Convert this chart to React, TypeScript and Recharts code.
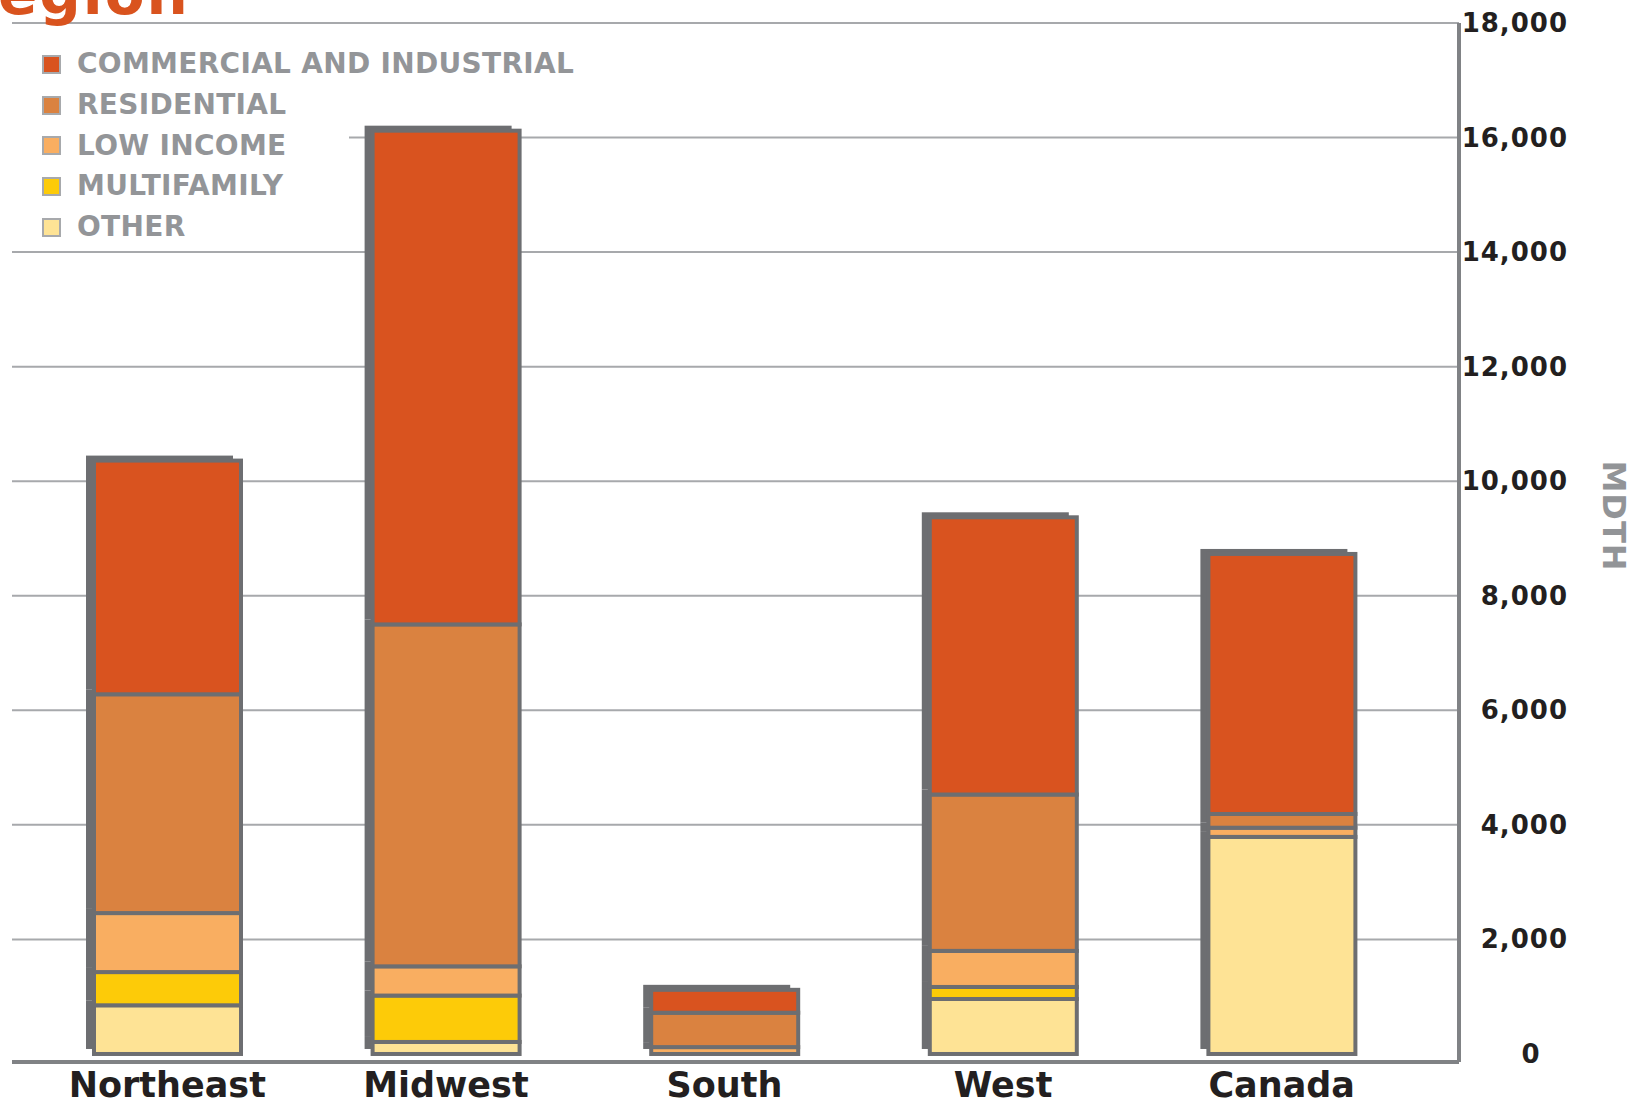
import React from "react";
import { BarChart, Bar, XAxis, YAxis, CartesianGrid, Legend } from "recharts";

// MDTH savings by region, stacked by program sector
const regions = ["Northeast", "Midwest", "South", "West", "Canada"];
const other = [850, 210, 0, 960, 3790];
const multifamily = [580, 810, 0, 210, 0];
const lowIncome = [1030, 510, 120, 630, 160];
const residential = [3820, 5970, 600, 2730, 240];
const commercial = [4080, 8620, 400, 4840, 4540];

const yTicks = [0, 2000, 4000, 6000, 8000, 10000, 12000, 14000, 16000, 18000];
const gridTicks = yTicks.filter((t) => t > 0);

const GRAY = "#6d6e71";
const FONT = "'DejaVu Sans', sans-serif";

const series = [
  { key: "other", name: "OTHER", color: "#fee395" },
  { key: "multifamily", name: "MULTIFAMILY", color: "#fdcb08" },
  { key: "lowIncome", name: "LOW INCOME", color: "#f9ae61" },
  { key: "residential", name: "RESIDENTIAL", color: "#da8240" },
  { key: "commercial", name: "COMMERCIAL AND INDUSTRIAL", color: "#d9531f" },
];

const data = regions.map((region, i) => ({
  region,
  other: other[i],
  multifamily: multifamily[i],
  lowIncome: lowIncome[i],
  residential: residential[i],
  commercial: commercial[i],
}));

// segment with the offset grey "shadow" frame behind it
const Segment = (props: any) => {
  const { x, y, width, height, fill } = props;
  if (!height || height <= 0) return null;
  return (
    <g>
      <rect x={x - 8} y={y - 5} width={width} height={height} fill={GRAY} />
      <rect x={x} y={y} width={width} height={height} fill={fill} stroke={GRAY} strokeWidth={4} />
    </g>
  );
};

const XTick = (props: any) => {
  const { x, y, payload } = props;
  return (
    <text x={x} y={y + 35} textAnchor="middle" fill="#231f20" fontFamily={FONT} fontWeight="bold" fontSize={35}>
      {payload.value}
    </text>
  );
};

const YTick = (props: any) => {
  const { x, y, payload } = props;
  const v = Number(payload.value);
  const zero = v === 0;
  return (
    <text
      x={zero ? x + 72 : x + 109}
      y={y}
      dy={9}
      textAnchor={zero ? "middle" : "end"}
      fill="#231f20"
      fontFamily={FONT}
      fontWeight="bold"
      fontSize={26}
      letterSpacing={1}
    >
      {v.toLocaleString("en-US")}
    </text>
  );
};

const renderLegend = () => (
  <div style={{ background: "#fff", width: 337, paddingLeft: 30, boxSizing: "border-box" }}>
    {[...series].reverse().map((s) => (
      <div key={s.key} style={{ display: "flex", alignItems: "center", height: 40.7, whiteSpace: "nowrap" }}>
        <span
          style={{
            display: "inline-block",
            width: 15,
            height: 15,
            background: s.color,
            border: "2px solid #a7a9ac",
            marginRight: 16,
            flex: "none",
          }}
        />
        <span style={{ fontFamily: FONT, fontWeight: "bold", fontSize: 28, color: "#939598", lineHeight: 1, letterSpacing: 0.3 }}>
          {s.name}
        </span>
      </div>
    ))}
  </div>
);

const MdthLabel = () => (
  <text
    x={1614}
    y={516}
    textAnchor="middle"
    dominantBaseline="central"
    transform="rotate(90 1614 516)"
    fill="#929497"
    fontFamily={FONT}
    fontWeight="bold"
    fontSize={32}
    letterSpacing={1}
  >
    MDTH
  </text>
);

export default function App() {
  return (
    <div style={{ position: "absolute", left: 0, top: 0, width: 1647, height: 1104, overflow: "hidden", background: "#fff" }}>
      <div
        style={{
          position: "absolute",
          left: -2,
          top: -35,
          fontFamily: FONT,
          fontWeight: "bold",
          fontSize: 58,
          lineHeight: 1,
          letterSpacing: 2,
          color: "#d9531e",
          zIndex: 2,
        }}
      >
        egion
      </div>
      <BarChart width={1647} height={1104} data={data} margin={{ top: 23, right: 38, bottom: 2, left: 12 }} barSize={147}>
        <CartesianGrid vertical={false} horizontalValues={gridTicks} stroke="#a7a9ac" strokeWidth={2} />
        <XAxis
          dataKey="region"
          height={40}
          padding={{ left: 16, right: 38 }}
          tickLine={false}
          tickSize={0}
          tickMargin={0}
          axisLine={{ stroke: "#808285", strokeWidth: 4 }}
          tick={<XTick />}
          interval={0}
        />
        <YAxis
          orientation="right"
          type="number"
          domain={[-140, 18000]}
          ticks={yTicks}
          width={150}
          tickLine={false}
          tickSize={0}
          tickMargin={0}
          axisLine={{ stroke: "#808285", strokeWidth: 4 }}
          tick={<YTick />}
          label={<MdthLabel />}
        />
        <Legend
          layout="vertical"
          align="center"
          verticalAlign="middle"
          wrapperStyle={{ top: 44, left: 12, width: "auto" }}
          content={renderLegend}
        />
        {series.map((s) => (
          <Bar key={s.key} dataKey={s.key} name={s.name} stackId="a" fill={s.color} shape={<Segment />} isAnimationActive={false} />
        ))}
      </BarChart>
    </div>
  );
}
